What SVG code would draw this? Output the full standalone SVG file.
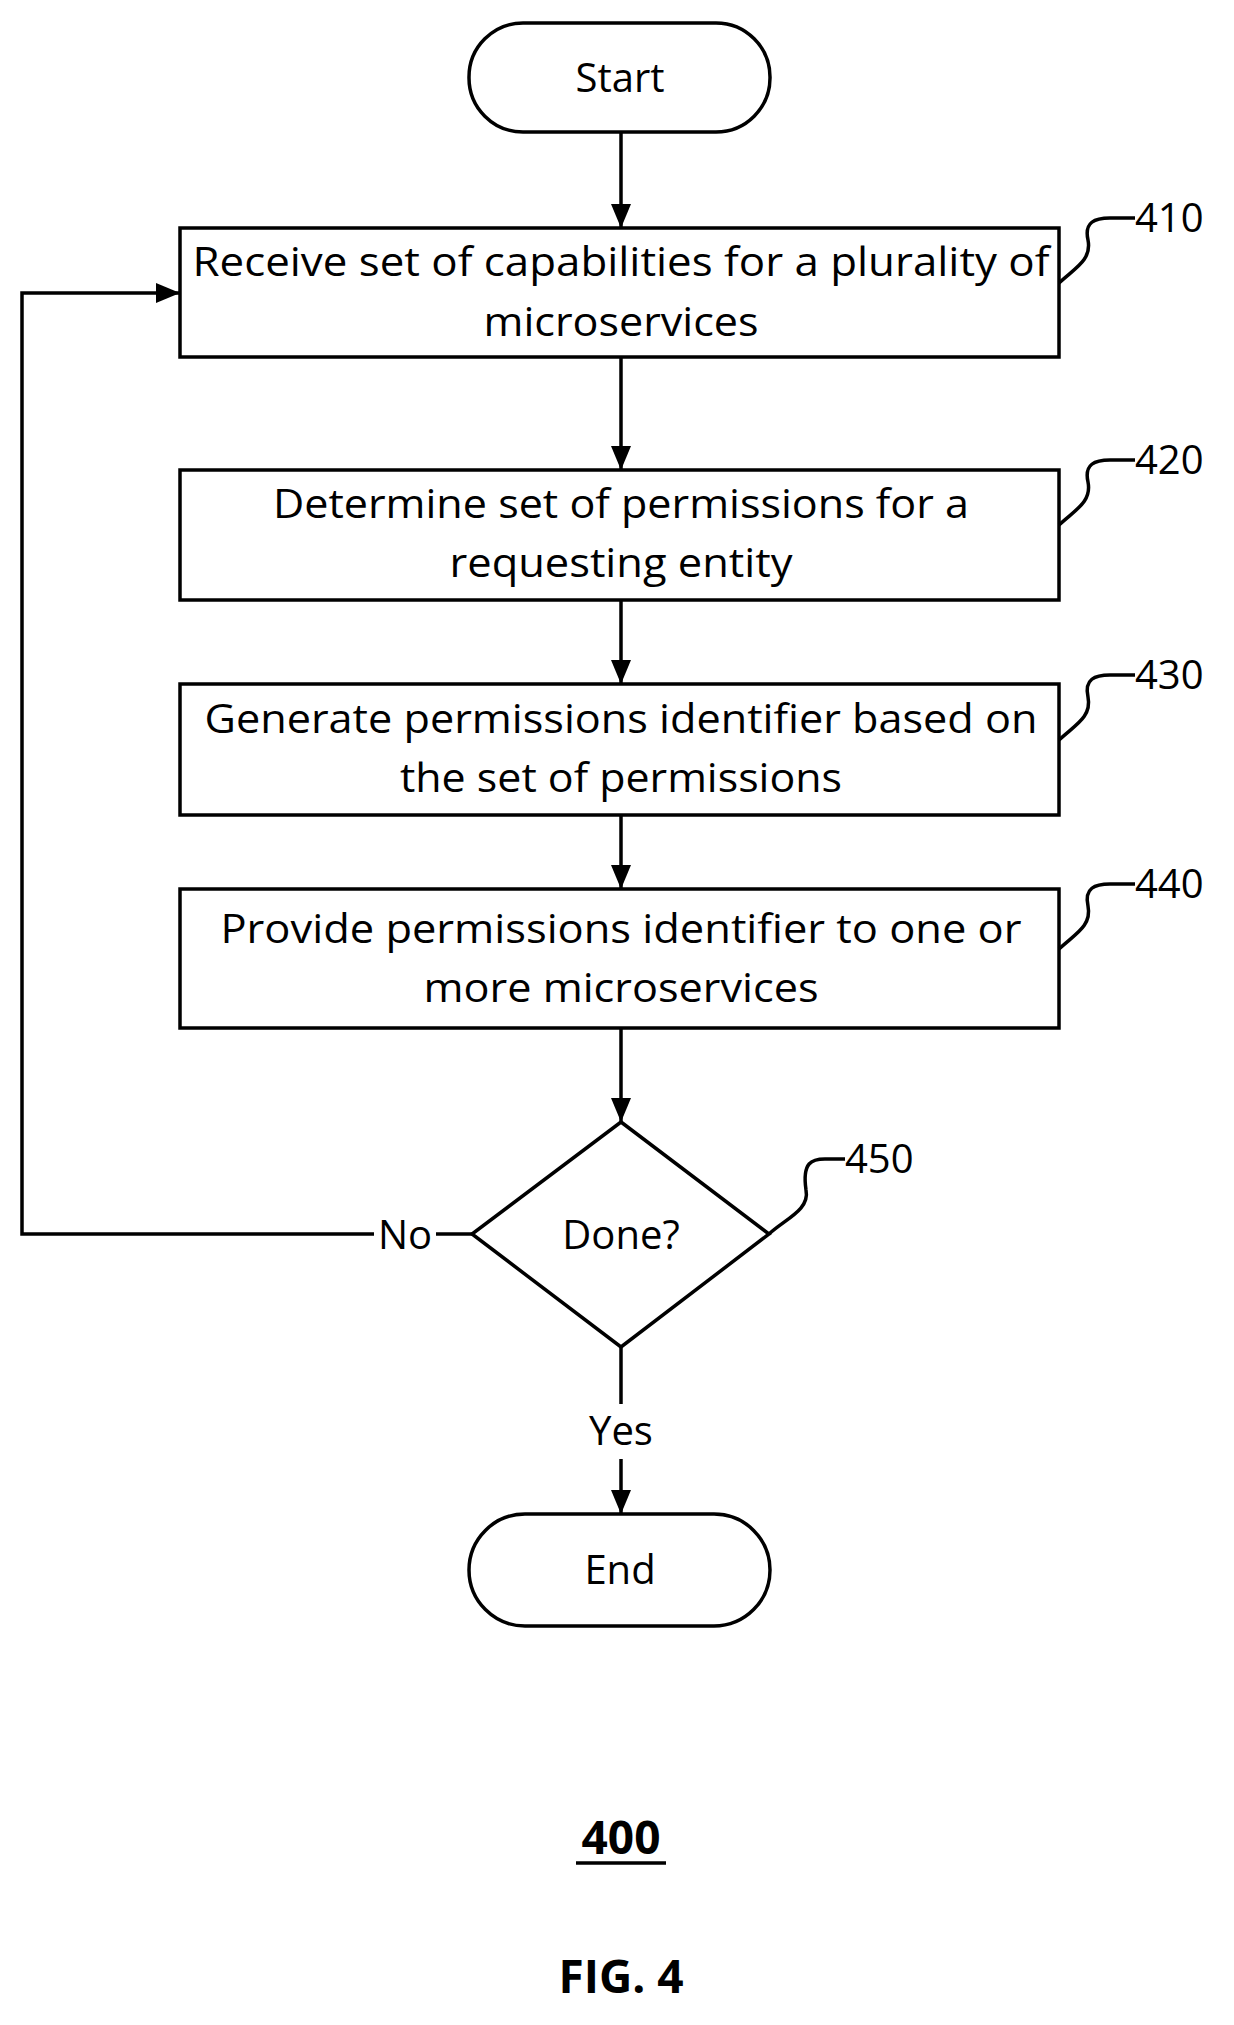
<svg xmlns="http://www.w3.org/2000/svg" width="1234" height="2025" viewBox="0 0 1234 2025">
<defs>
<marker id="ah" markerWidth="24" markerHeight="20" refX="24" refY="10" orient="auto" markerUnits="userSpaceOnUse" viewBox="0 0 24 20"><path d="M0,0 L24,10 L0,20 z" fill="#000"/></marker>
<style>
.s{fill:#fff;stroke:#000;stroke-width:3.5}
.l{fill:none;stroke:#000;stroke-width:3.5}
.t{font-family:"Open Sans","Liberation Sans",sans-serif;font-size:40px;text-anchor:middle;fill:#000}
.n{font-family:"Open Sans","Liberation Sans",sans-serif;font-size:40px;fill:#000}
.b{font-family:"Open Sans","Liberation Sans",sans-serif;font-size:46px;font-weight:bold;text-anchor:middle;fill:#000}
</style>
</defs>
<g id="connectors">
<line class="l" x1="621" y1="132" x2="621" y2="228" marker-end="url(#ah)"/>
<line class="l" x1="621" y1="357" x2="621" y2="470" marker-end="url(#ah)"/>
<line class="l" x1="621" y1="600" x2="621" y2="684" marker-end="url(#ah)"/>
<line class="l" x1="621" y1="815" x2="621" y2="889" marker-end="url(#ah)"/>
<line class="l" x1="621" y1="1028" x2="621" y2="1122" marker-end="url(#ah)"/>
<line class="l" x1="621" y1="1347" x2="621" y2="1404"/>
<line class="l" x1="621" y1="1459" x2="621" y2="1514" marker-end="url(#ah)"/>
<polyline class="l" points="472,1234 436,1234"/>
<polyline class="l" points="374,1234 22,1234 22,293 180,293" marker-end="url(#ah)"/>
<text class="t" x="405" y="1249">No</text>
<text class="t" x="621" y="1445">Yes</text>
</g>
<g id="start"><rect class="s" x="469" y="23" width="301" height="109" rx="54"/><text class="t" x="620" y="92">Start</text></g>
<g id="n410"><rect class="s" x="180" y="228" width="879" height="129"/>
<text class="t" x="621" y="276" textLength="857" lengthAdjust="spacingAndGlyphs">Receive set of capabilities for a plurality of</text>
<text class="t" x="621" y="336" textLength="275" lengthAdjust="spacingAndGlyphs">microservices</text>
<path class="l" d="M1059,283 C1075,268 1092,260 1088,240 C1084,222 1095,218 1110,218 L1135,218"/>
<text class="n" x="1135" y="232">410</text></g>
<g id="n420"><rect class="s" x="180" y="470" width="879" height="130"/>
<text class="t" x="621" y="518" textLength="696" lengthAdjust="spacingAndGlyphs">Determine set of permissions for a</text>
<text class="t" x="621" y="577" textLength="343" lengthAdjust="spacingAndGlyphs">requesting entity</text>
<path class="l" d="M1059,525 C1075,510 1092,502 1088,482 C1084,464 1095,460 1110,460 L1135,460"/>
<text class="n" x="1135" y="474">420</text></g>
<g id="n430"><rect class="s" x="180" y="684" width="879" height="131"/>
<text class="t" x="621" y="733" textLength="833" lengthAdjust="spacingAndGlyphs">Generate permissions identifier based on</text>
<text class="t" x="621" y="792" textLength="442" lengthAdjust="spacingAndGlyphs">the set of permissions</text>
<path class="l" d="M1059,740 C1075,725 1092,717 1088,697 C1084,679 1095,675 1110,675 L1135,675"/>
<text class="n" x="1135" y="689">430</text></g>
<g id="n440"><rect class="s" x="180" y="889" width="879" height="139"/>
<text class="t" x="621" y="943" textLength="801" lengthAdjust="spacingAndGlyphs">Provide permissions identifier to one or</text>
<text class="t" x="621" y="1002" textLength="395" lengthAdjust="spacingAndGlyphs">more microservices</text>
<path class="l" d="M1059,949 C1075,934 1092,926 1088,906 C1084,888 1095,884 1110,884 L1135,884"/>
<text class="n" x="1135" y="898">440</text></g>
<g id="n450"><polygon class="s" points="621,1122 769,1234 621,1347 472,1234"/>
<text class="t" x="621" y="1249">Done?</text>
<path class="l" d="M769,1234 C785,1219 810,1210 806,1190 C802,1162 812,1159 825,1159 L845,1159"/>
<text class="n" x="845" y="1173">450</text></g>
<g id="end"><rect class="s" x="469" y="1514" width="301" height="112" rx="56"/><text class="t" x="620" y="1584">End</text></g>
<g id="labels">
<text class="b" x="621" y="1854">400</text>
<line x1="576" y1="1863" x2="666" y2="1863" stroke="#000" stroke-width="3.5"/>
<text class="b" x="621" y="1993">FIG. 4</text>
</g>
</svg>
